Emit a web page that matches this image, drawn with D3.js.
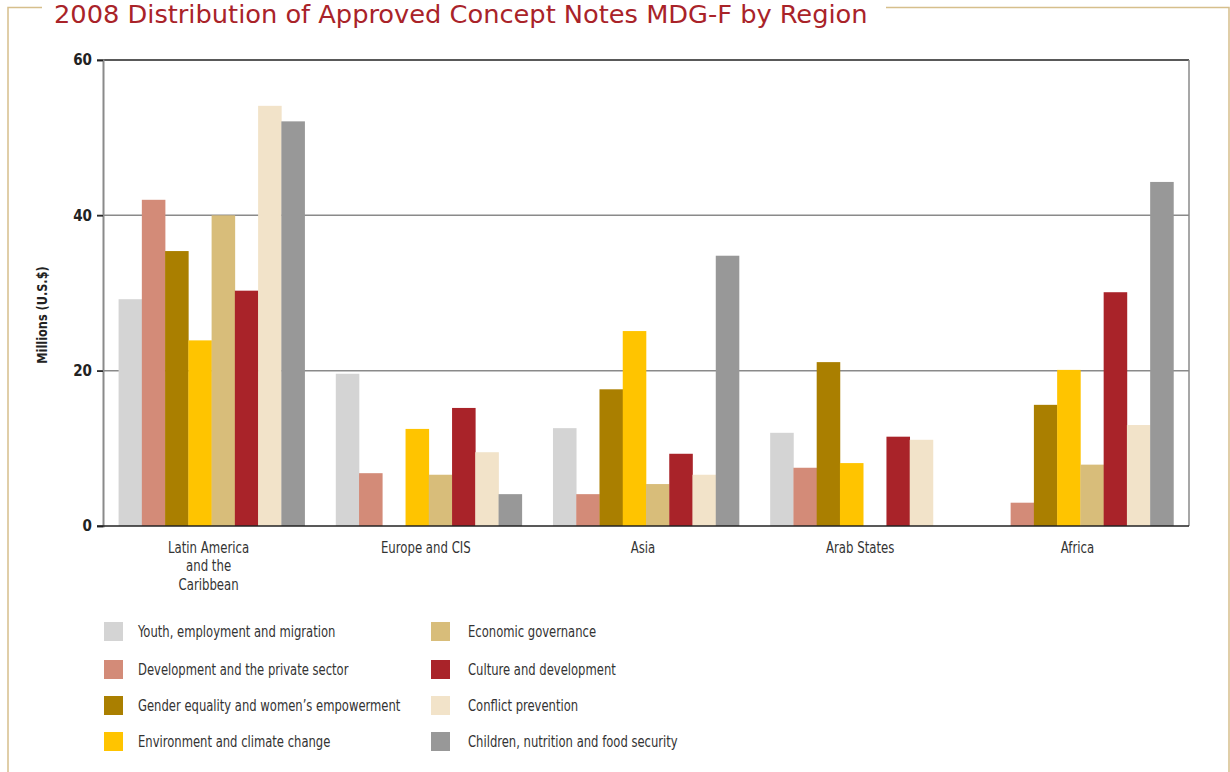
<!DOCTYPE html>
<html lang="en">
<head>
<meta charset="UTF-8">
<title>2008 Distribution of Approved Concept Notes MDG-F by Region</title>
<script src="https://d3js.org/d3.v7.min.js"></script>
<style>
  body { margin: 0; background: #fff; }
  svg { display: block; font-family: "Liberation Sans Narrow", "DejaVu Sans Condensed", "Arial Narrow", sans-serif; }
</style>
</head>
<body>
<svg width="1230" height="772"></svg>
<script>
// regions along the x axis
const regions = ["Latin America|and the|Caribbean", "Europe and CIS", "Asia", "Arab States", "Africa"];

// thematic windows (legend order)
const themes = [
  "Youth, employment and migration",
  "Development and the private sector",
  "Gender equality and women\u2019s empowerment",
  "Environment and climate change",
  "Economic governance",
  "Culture and development",
  "Conflict prevention",
  "Children, nutrition and food security"
];
const themeColors = ["#d4d4d4", "#d38b78", "#aa7f00", "#ffc400", "#d8bd7a", "#a92329", "#f2e3c9", "#989898"];

// values in millions of US$, one array per theme, in region order
const youth       = [29.2, 19.6, 12.6, 12.0, 0];
const privateSec  = [42.0,  6.8,  4.1,  7.5, 3.0];
const gender      = [35.4,  0,   17.6, 21.1, 15.6];
const environment = [23.9, 12.5, 25.1,  8.1, 20.1];
const economic    = [40.0,  6.6,  5.4,  0,    7.9];
const culture     = [30.3, 15.2,  9.3, 11.5, 30.1];
const conflict    = [54.1,  9.5,  6.6, 11.1, 13.0];
const children    = [52.1,  4.1, 34.8,  0,   44.3];
const seriesValues = [youth, privateSec, gender, environment, economic, culture, conflict, children];

const yTicks = [0, 20, 40, 60];

const svg = d3.select("svg");
const narrow = 0.86; // horizontal squeeze to imitate the condensed face

// frame + title
const frameColor = "#d6bf8c";
const title = svg.append("text")
  .attr("fill", "#a92329")
  .attr("font-size", 24)
  .attr("font-weight", 300)
  .text("2008 Distribution of Approved Concept Notes MDG-F by Region");
// stretch the title to the reference width
const tw = title.node().getComputedTextLength();
title.attr("transform", `translate(54,23) scale(${814 / tw},1)`);

svg.append("path")
  .attr("d", "M8,772 L8,7.5 L42,7.5")
  .attr("fill", "none").attr("stroke", frameColor).attr("stroke-width", 1.5);
svg.append("path")
  .attr("d", "M886,7.5 L1229,7.5 L1229,772")
  .attr("fill", "none").attr("stroke", frameColor).attr("stroke-width", 1.5);

// scales
const x0 = d3.scaleBand().domain(regions).range([103, 1189]);
const x1 = d3.scaleBand().domain(d3.range(themes.length))
  .range([0, x0.bandwidth()]).paddingOuter(0.67);
const y = d3.scaleLinear().domain([0, 60]).range([526, 60]);

// gridlines
svg.append("g")
  .selectAll("line")
  .data(yTicks.filter(t => t > 0 && t < 60))
  .join("line")
  .attr("x1", 97).attr("x2", 1189)
  .attr("y1", d => y(d)).attr("y2", d => y(d))
  .attr("stroke", "#8a8a8a").attr("stroke-width", 1.5);

// bars
const groups = svg.append("g")
  .selectAll("g")
  .data(regions)
  .join("g")
  .attr("transform", d => `translate(${x0(d)},0)`);

groups.selectAll("rect")
  .data((r, ri) => seriesValues.map((vals, si) => ({ si, v: vals[ri] })))
  .join("rect")
  .attr("x", d => x1(d.si))
  .attr("width", x1.bandwidth() + 0.3)
  .attr("y", d => y(d.v))
  .attr("height", d => y(0) - y(d.v))
  .attr("fill", d => themeColors[d.si]);

// plot frame: top line, left axis, right border, baseline
svg.append("line").attr("x1", 97).attr("x2", 1189).attr("y1", y(60)).attr("y2", y(60))
  .attr("stroke", "#222").attr("stroke-width", 1.5);
svg.append("line").attr("x1", 1189).attr("x2", 1189).attr("y1", y(60)).attr("y2", y(0))
  .attr("stroke", "#8a8a8a").attr("stroke-width", 1.5);

const yAxis = svg.append("g")
  .attr("transform", "translate(103,0)")
  .call(d3.axisLeft(y).tickValues(yTicks).tickSize(6).tickPadding(5));
yAxis.select(".domain").attr("stroke", "#8a8a8a").attr("stroke-width", 2);
yAxis.selectAll(".tick line").attr("stroke", "#222").attr("stroke-width", 1.5);
yAxis.selectAll(".tick text")
  .attr("font-family", "\"Liberation Sans Narrow\", \"DejaVu Sans Condensed\", sans-serif")
  .attr("font-size", 15).attr("font-weight", "bold").attr("fill", "#222");

svg.append("line").attr("x1", 97).attr("x2", 1189).attr("y1", y(0)).attr("y2", y(0))
  .attr("stroke", "#222").attr("stroke-width", 1.5);

// y axis title
svg.append("text")
  .attr("transform", "translate(47,315) rotate(-90) scale(0.9,1)")
  .attr("text-anchor", "middle")
  .attr("font-size", 14)
  .attr("font-weight", "bold")
  .attr("fill", "#222")
  .text("Millions (U.S.$)");

// region labels
const xl = svg.append("g")
  .selectAll("text")
  .data(regions)
  .join("text")
  .attr("transform", d => `translate(${x0(d) + x0.bandwidth() / 2 - 3},553) scale(0.87,1)`)
  .attr("text-anchor", "middle")
  .attr("font-size", 15)
  .attr("fill", "#333");
xl.selectAll("tspan")
  .data(d => d.split("|"))
  .join("tspan")
  .attr("x", 0)
  .attr("dy", (d, i) => i === 0 ? 0 : 18.5)
  .text(d => d);

// legend, two columns of four
const legendRows = [622, 660, 696, 732];
const legendCols = [104, 431];
const legendTextX = [138, 468];
const legend = svg.append("g");
legend.selectAll("rect")
  .data(themes)
  .join("rect")
  .attr("x", (d, i) => legendCols[Math.floor(i / 4)])
  .attr("y", (d, i) => legendRows[i % 4])
  .attr("width", 19).attr("height", 19)
  .attr("fill", (d, i) => themeColors[i]);
legend.selectAll("text")
  .data(themes)
  .join("text")
  .attr("transform", (d, i) =>
    `translate(${legendTextX[Math.floor(i / 4)]},${legendRows[i % 4] + 14.5}) scale(${narrow},1)`)
  .attr("font-size", 15)
  .attr("fill", "#333")
  .text(d => d);
</script>
</body>
</html>
